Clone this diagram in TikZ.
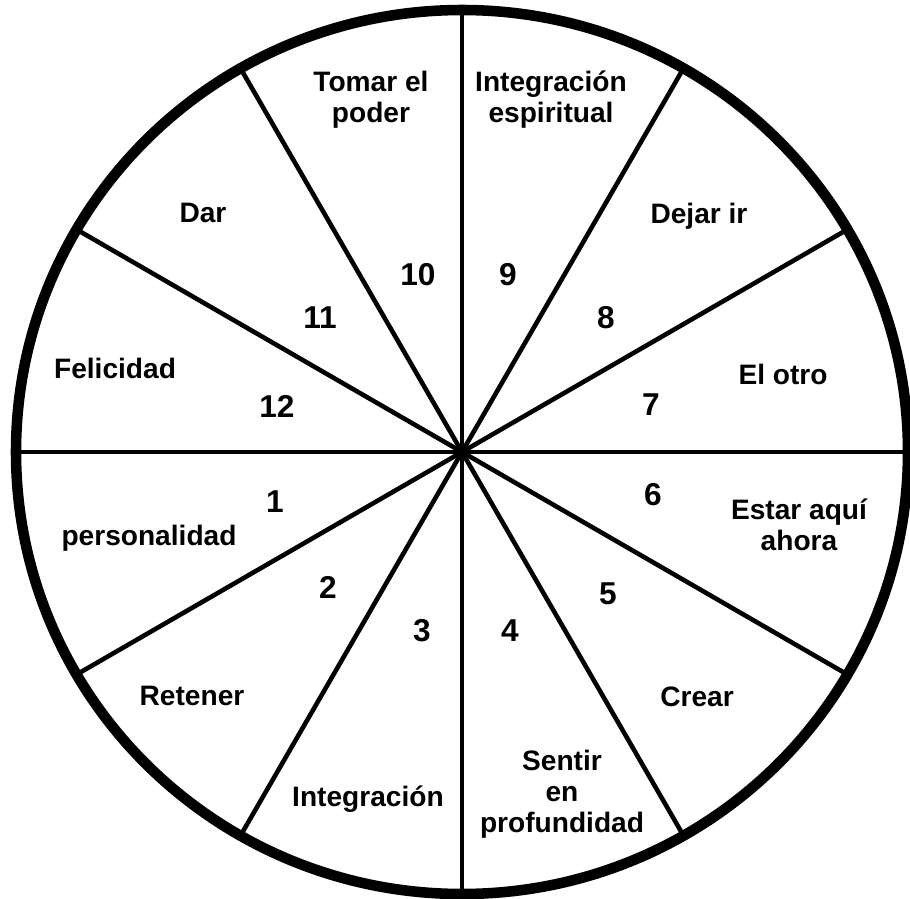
\documentclass[tikz,border=0pt]{standalone}
\usepackage{fontspec}
\setmainfont{Liberation Sans}
\begin{document}
\begin{tikzpicture}[x=0.02cm, y=-0.02cm,
    rim/.style={line width=6pt},
    spoke/.style={line width=2.6pt},
    lbl/.style={font=\bfseries\fontsize{16}{17.5}\selectfont, align=center, anchor=base, inner sep=0pt},
    num/.style={font=\bfseries\fontsize{18}{20}\selectfont, anchor=base, inner sep=0pt}]
    \useasboundingbox (0,0) rectangle (910,899);
    \coordinate (C) at (462,452);

    % Spokes
    \foreach \a in {0,30,...,150}
        \draw[spoke] (C) ++(\a:444) -- ++(\a+180:888);

    % Rim
    \draw[rim] (C) ellipse [x radius=446, y radius=442];

    % Sector numbers
    \node[num] (n1) at (275,512) {1};
    \node[num] (n2) at (328,598) {2};
    \node[num] (n3) at (422,641) {3};
    \node[num] (n4) at (510,641) {4};
    \node[num] (n5) at (608,604) {5};
    \node[num] (n6) at (653,505) {6};
    \node[num] (n7) at (651,415) {7};
    \node[num] (n8) at (606,328) {8};
    \node[num] (n9) at (508,285) {9};
    \node[num] (n10) at (418,285) {10};
    \node[num] (n11) at (320,328) {11};
    \node[num] (n12) at (277,417) {12};

    % Sector labels (multi-line ones sit on their last line)
    \node[lbl] (l1) at (149,545) {personalidad};
    \node[lbl] (l2) at (192,705) {Retener};
    \node[lbl] (l3) at (368,806) {Integración};
    \node[lbl] (l4) at (562,832) {Sentir\\en\\profundidad};
    \node[lbl] (l5) at (697,706) {Crear};
    \node[lbl] (l6) at (799,550) {Estar aquí\\ahora};
    \node[lbl] (l7) at (783,384) {El otro};
    \node[lbl] (l8) at (699,223) {Dejar ir};
    \node[lbl] (l9) at (551,122) {Integración\\espiritual};
    \node[lbl] (l10) at (371,122) {Tomar el\\poder};
    \node[lbl] (l11) at (203,222) {Dar};
    \node[lbl] (l12) at (115,378) {Felicidad};
\end{tikzpicture}
\end{document}
